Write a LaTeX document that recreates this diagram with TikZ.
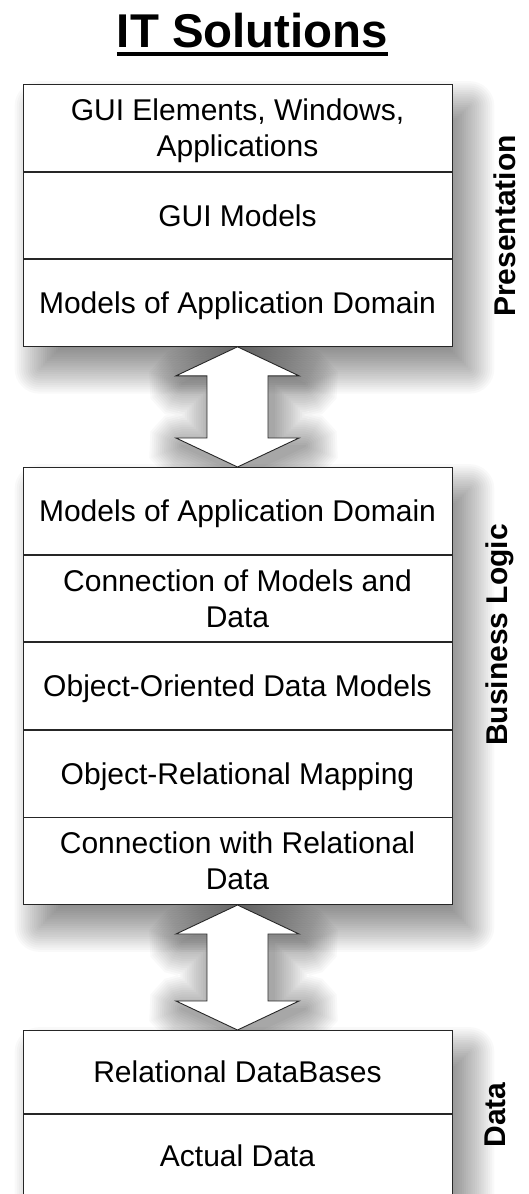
\documentclass[tikz,border=0pt]{standalone}
\usepackage{fontspec}
\setmainfont{Liberation Sans}
\usetikzlibrary{calc,backgrounds}

% two centred lines of text: height is the first line, depth runs to the last baseline
\newcommand\twoline[2]{\vtop{\halign{\hfil##\hfil\cr#1\cr#2\cr}}}
% text with a thick rule underneath
\newcommand\ulined[1]{\vtop{\hbox{#1}\kern5pt\hrule height 4pt}}

\tikzset{
  layerrow/.style={draw=black!85, line width=0.9pt, fill=white,
    minimum width=429pt, minimum height=86.7pt, inner sep=0pt,
    text height=21.5pt, text depth=0pt, anchor=north,
    font=\fontsize{30}{36}\selectfont},
  tworow/.style={layerrow, text depth=36pt},
  sidelabel/.style={rotate=90, inner sep=0pt, text height=21.5pt, text depth=0pt,
    font=\bfseries\fontsize{30}{36}\selectfont},
  bigarrow/.style={draw=black!85, line width=0.9pt, fill=white},
  % double-headed block arrow between two tips
  dblarrow/.style 2 args={insert path={
    (#1) -- ++(61.5,29) -- ++(-31,0) -- ($(#2)+(30.5,-29)$) -- ++(31,0)
    -- (#2) -- ++(-61.5,-29) -- ++(31,0) -- ($(#1)+(-30.5,29)$) -- ++(-31,0) -- cycle}},
  % the same arrow grown outwards by #3 (rounded at the outer corners)
  dblhalo/.style n args={3}{insert path={
    ($(#1)+(0,{-1.1056*#3})$)
    -- ($(#1)+({61.5+0.4265*#3},{29-0.9044*#3})$)
    -- ($(#1)+({61.5+0.9397*#3},{29-0.3420*#3})$)
    -- ($(#1)+({61.5+0.9063*#3},{29+0.4226*#3})$)
    -- ($(#1)+({61.5+0.5*#3},{29+0.866*#3})$)
    -- ($(#1)+(61.5,{29+#3})$)
    -- ($(#1)+({30.5+#3},{29+#3})$)
    -- ($(#2)+({30.5+#3},{-29-#3})$)
    -- ($(#2)+(61.5,{-29-#3})$)
    -- ($(#2)+({61.5+0.5*#3},{-29-0.866*#3})$)
    -- ($(#2)+({61.5+0.9063*#3},{-29-0.4226*#3})$)
    -- ($(#2)+({61.5+0.9397*#3},{-29+0.3420*#3})$)
    -- ($(#2)+({61.5+0.4265*#3},{-29+0.9044*#3})$)
    -- ($(#2)+(0,{1.1056*#3})$)
    -- ($(#2)+({-61.5-0.4265*#3},{-29+0.9044*#3})$)
    -- ($(#2)+({-61.5-0.9397*#3},{-29+0.3420*#3})$)
    -- ($(#2)+({-61.5-0.9063*#3},{-29-0.4226*#3})$)
    -- ($(#2)+({-61.5-0.5*#3},{-29-0.866*#3})$)
    -- ($(#2)+(-61.5,{-29-#3})$)
    -- ($(#2)+({-30.5-#3},{-29-#3})$)
    -- ($(#1)+({-30.5-#3},{29+#3})$)
    -- ($(#1)+(-61.5,{29+#3})$)
    -- ($(#1)+({-61.5-0.5*#3},{29+0.866*#3})$)
    -- ($(#1)+({-61.5-0.9063*#3},{29+0.4226*#3})$)
    -- ($(#1)+({-61.5-0.9397*#3},{29-0.3420*#3})$)
    -- ($(#1)+({-61.5-0.4265*#3},{29-0.9044*#3})$)
    -- cycle}}
}

% soft drop shadow of a rectangle: stacked, faintly transparent rounded rectangles
\newcommand\boxshadow[2]{%
  \foreach \i in {1,...,24}{%
    \pgfmathsetmacro\e{-26+52*(\i-0.5)/24}%
    \pgfmathsetmacro\rc{max(\e,0.01)}%
    \fill[black, fill opacity=0.025, rounded corners=\rc pt]
      ($(#1)+({17-\e},{22-\e})$) rectangle ($(#2)+({17+\e},{22+\e})$);
  }}
% soft drop shadow of a block arrow
\newcommand\arrowshadow[2]{%
  \foreach \i in {1,...,16}{%
    \pgfmathsetmacro\e{36*(\i-0.5)/16}%
    \fill[black, fill opacity=0.025, dblhalo={#1}{#2}{\e}];
  }}

\begin{document}
\begin{tikzpicture}[x=1pt, y=-1pt]
\useasboundingbox (0,0) rectangle (529,1194);

% title
\node[font=\bfseries\fontsize{47.4}{56}\selectfont, anchor=base, inner sep=0pt]
  (title) at (252.5,47) {\ulined{IT Solutions}};

% presentation layer
\node[tworow] (p1) at (237.5,84) {\twoline{GUI Elements, Windows,}{Applications}};
\node[layerrow] (p2) at (p1.south) {GUI Models};
\node[layerrow] (p3) at (p2.south) {Models of Application Domain};

% business logic layer
\node[layerrow] (b1) at (237.5,467) {Models of Application Domain};
\node[tworow] (b2) at (b1.south) {\twoline{Connection of Models and}{Data}};
\node[layerrow] (b3) at (b2.south) {Object-Oriented Data Models};
\node[layerrow] (b4) at (b3.south) {Object-Relational Mapping};
\node[tworow] (b5) at (b4.south) {\twoline{Connection with Relational}{Data}};

% data layer
\node[layerrow, minimum height=83pt] (d1) at (237.5,1030) {Relational DataBases};
\node[layerrow, minimum height=83pt] (d2) at (d1.south) {Actual Data};

% links between the layers
\path[bigarrow, dblarrow={p3.south}{b1.north}];
\path[bigarrow, dblarrow={b5.south}{d1.north}];

% layer names
\node[sidelabel] (lpres) at (505,226) {Presentation};
\node[sidelabel] (lbiz) at (497,635) {Business Logic};
\node[sidelabel] (ldata) at (495,1115) {Data};

% page and drop shadows underneath everything
\begin{scope}[on background layer]
  \fill[white] (0,0) rectangle (529,1194);
  \boxshadow{p1.north west}{p3.south east}
  \boxshadow{b1.north west}{b5.south east}
  \boxshadow{d1.north west}{d2.south east}
  \coordinate (s1t) at ($(p3.south)+(6,8)$);
  \coordinate (s1b) at ($(b1.north)+(6,8)$);
  \coordinate (s2t) at ($(b5.south)+(6,8)$);
  \coordinate (s2b) at ($(d1.north)+(6,8)$);
  \arrowshadow{s1t}{s1b}
  \arrowshadow{s2t}{s2b}
\end{scope}
\end{tikzpicture}
\end{document}
